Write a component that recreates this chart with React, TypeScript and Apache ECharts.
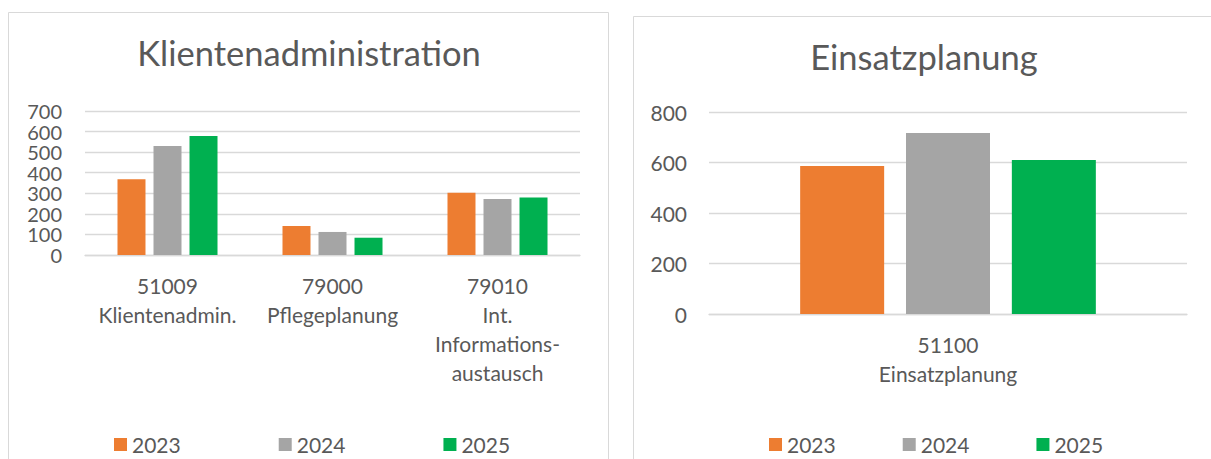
import React, { useEffect, useRef } from "react";
import * as echarts from "echarts";

const years = ["2023", "2024", "2025"];
const colors = ["#ED7D31", "#A5A5A5", "#00B050"];

const leftTitle = "Klientenadministration";
const leftCategories = [
  "51009\nKlientenadmin.",
  "79000\nPflegeplanung",
  "79010\nInt.\nInformations-\naustausch",
];
const left2023 = [368, 141, 303];
const left2024 = [530, 112, 272];
const left2025 = [578, 84, 280];

const rightTitle = "Einsatzplanung";
const rightCategories = ["51100\nEinsatzplanung"];
const right2023 = [586];
const right2024 = [717];
const right2025 = [610];

const textColor = "#595959";
const gridColor = "#D9D9D9";
const font = "Lato";

export default function App() {
  const ref = useRef<HTMLDivElement>(null);
  useEffect(() => {
    if (!ref.current) return;
    const chart = echarts.init(ref.current, null, { renderer: "svg" });
    const leftData = [left2023, left2024, left2025];
    const rightData = [right2023, right2024, right2025];
    const labelStyle = { color: textColor, fontSize: 21, fontFamily: font };
    const xAxisBase = {
      type: "category" as const,
      axisTick: { show: false },
      axisLine: { show: true, lineStyle: { color: gridColor, width: 1.3 } },
      axisLabel: { ...labelStyle, interval: 0, lineHeight: 29, margin: 16 },
    };
    const yAxisBase = {
      type: "value" as const,
      min: 0,
      axisLine: { show: false },
      axisTick: { show: false },
      splitLine: { lineStyle: { color: gridColor, width: 1.3 } },
    };
    chart.setOption({
      animation: false,
      textStyle: { fontFamily: font },
      title: [
        {
          text: leftTitle,
          left: 309,
          top: 35,
          textAlign: "center",
          padding: 0,
          textStyle: { color: textColor, fontSize: 34.5, fontWeight: "normal", fontFamily: font },
        },
        {
          text: rightTitle,
          left: 924,
          top: 39,
          textAlign: "center",
          padding: 0,
          textStyle: { color: textColor, fontSize: 34.5, fontWeight: "normal", fontFamily: font },
        },
      ],
      legend: [
        {
          data: years,
          left: 114,
          top: 434,
          padding: 0,
          icon: "rect",
          itemWidth: 13,
          itemHeight: 13,
          itemGap: 98,
          textStyle: { ...labelStyle },
        },
        {
          data: years,
          left: 769,
          top: 434,
          padding: 0,
          icon: "rect",
          itemWidth: 13,
          itemHeight: 13,
          itemGap: 67,
          textStyle: { ...labelStyle },
        },
      ],
      grid: [
        { left: 85, top: 111, width: 495, height: 144 },
        { left: 709, top: 112, width: 478, height: 202 },
      ],
      xAxis: [
        { ...xAxisBase, gridIndex: 0, data: leftCategories },
        { ...xAxisBase, gridIndex: 1, data: rightCategories },
      ],
      yAxis: [
        {
          ...yAxisBase,
          gridIndex: 0,
          max: 700,
          interval: 100,
          axisLabel: {
            ...labelStyle,
            fontSize: 20,
            lineHeight: 20,
            margin: 23,
            showMinLabel: true,
            showMaxLabel: true,
            hideOverlap: false,
          },
        },
        {
          ...yAxisBase,
          gridIndex: 1,
          max: 800,
          interval: 200,
          axisLabel: { ...labelStyle, margin: 22, showMinLabel: true, showMaxLabel: true },
        },
      ],
      graphic: [
        {
          type: "rect",
          shape: { x: 8.5, y: 12.5, width: 600, height: 470 },
          style: { fill: "none", stroke: gridColor, lineWidth: 1 },
          z: -1,
        },
        {
          type: "rect",
          shape: { x: 633.5, y: 16.5, width: 600, height: 470 },
          style: { fill: "none", stroke: gridColor, lineWidth: 1 },
          z: -1,
        },
      ],
      series: [
        ...years.map((y, i) => ({
          name: y,
          type: "bar",
          xAxisIndex: 0,
          yAxisIndex: 0,
          data: leftData[i],
          barWidth: 28,
          barGap: "28.6%",
          itemStyle: { color: colors[i] },
        })),
        ...years.map((y, i) => ({
          name: y,
          type: "bar",
          xAxisIndex: 1,
          yAxisIndex: 1,
          data: rightData[i],
          barWidth: 84,
          barGap: "26%",
          itemStyle: { color: colors[i] },
        })),
      ],
    });
    return () => chart.dispose();
  }, []);
  return (
    <div
      ref={ref}
      style={{ position: "fixed", left: 0, top: 0, width: 1211, height: 459, background: "#fff" }}
    />
  );
}
